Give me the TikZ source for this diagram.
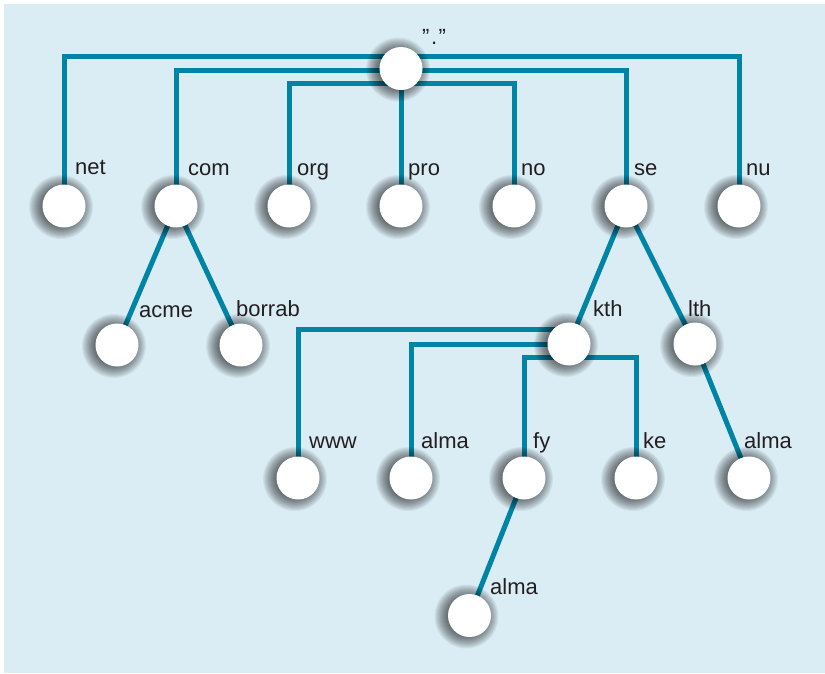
\documentclass[tikz,border=0pt]{standalone}
\usepackage{fontspec}
\setmainfont{Liberation Sans}
\definecolor{bgc}{RGB}{218,236,244}
\definecolor{linec}{RGB}{0,132,166}
\definecolor{txtc}{RGB}{35,31,32}
\pgfdeclarelayer{bglayer}
\pgfdeclarelayer{shlayer}
\pgfsetlayers{bglayer,shlayer,main}
\begin{document}
\begin{tikzpicture}[x=1pt,y=-1pt,
  dnode/.style={circle,fill=white,minimum size=43pt,inner sep=0pt},
  lbl/.style={anchor=base west,inner sep=0pt,font=\fontsize{22}{26}\selectfont,text=txtc},
  conn/.style={draw=linec,line width=5pt},
  shadowring/.style={fill=black,fill opacity=0.05}]
\useasboundingbox (0,0) rectangle (825,673);
% nodes
\node[dnode] (root) at (401,68.5) {};
\node[dnode] (net) at (64,206) {};
\node[dnode] (com) at (176,206) {};
\node[dnode] (org) at (289,206) {};
\node[dnode] (pro) at (401,206) {};
\node[dnode] (no) at (514,206) {};
\node[dnode] (se) at (626,206) {};
\node[dnode] (nu) at (739,206) {};
\node[dnode] (acme) at (117,345) {};
\node[dnode] (borrab) at (241,345) {};
\node[dnode] (kth) at (569,344) {};
\node[dnode] (lth) at (695,344) {};
\node[dnode] (www) at (298,478) {};
\node[dnode] (alma1) at (411,478) {};
\node[dnode] (fy) at (524,478) {};
\node[dnode] (ke) at (636,478) {};
\node[dnode] (alma2) at (749,478) {};
\node[dnode] (alma3) at (469.5,615.5) {};
% labels
\node[lbl] (lroot) at (422,44) {”\kern1.5pt.\kern1.5pt”};
\node[lbl] (lnet) at (75,174) {net};
\node[lbl] (lcom) at (188,175) {com};
\node[lbl] (lorg) at (297,175) {org};
\node[lbl] (lpro) at (408,175) {pro};
\node[lbl] (lno) at (521,175) {no};
\node[lbl] (lse) at (634,175) {se};
\node[lbl] (lnu) at (746,175) {nu};
\node[lbl] (lacme) at (139,317) {acme};
\node[lbl] (lborrab) at (236,316) {borrab};
\node[lbl] (lkth) at (593,316) {kth};
\node[lbl] (llth) at (688,316) {lth};
\node[lbl] (lwww) at (309,448) {www};
\node[lbl] (lalma1) at (421,448) {alma};
\node[lbl] (lfy) at (533,448) {fy};
\node[lbl] (lke) at (643,448) {ke};
\node[lbl] (lalma2) at (744,448) {alma};
\node[lbl] (lalma3) at (490,594) {alma};
% shadows
\begin{pgfonlayer}{shlayer}
\foreach \n in {root,net,com,org,pro,no,se,nu,acme,borrab,kth,lth,www,alma1,fy,ke,alma2,alma3}{
  \foreach \k in {0,1,...,12}{
    \fill[shadowring] ([xshift=-3pt,yshift=-1pt]\n.center) circle ({20pt+\k pt});
  }
}
\end{pgfonlayer}
% background and connectors
\begin{pgfonlayer}{bglayer}
\fill[white] (0,0) rectangle (825,673);
\fill[bgc] (4,4) rectangle (825,673);
\draw[conn] (net.center) |- ([yshift=12.5pt]root.center) -| (nu.center);
\draw[conn] (com.center) |- ([yshift=-1.5pt]root.center) -| (se.center);
\draw[conn] (org.center) |- ([yshift=-14.5pt]root.center) -| (no.center);
\draw[conn] (root.center) -- (pro.center);
\draw[conn] (com.center) -- (acme.center);
\draw[conn] (com.center) -- (borrab.center);
\draw[conn] (se.center) -- (kth.center);
\draw[conn] (se.center) -- (lth.center);
\draw[conn] (lth.center) -- (alma2.center);
\draw[conn] ([yshift=15pt]kth.center) -| (www.center);
\draw[conn] (kth.center) -| (alma1.center);
\draw[conn] (fy.center) |- ([yshift=-13pt]kth.center) -| (ke.center);
\draw[conn] (fy.center) -- (alma3.center);
\end{pgfonlayer}
\end{tikzpicture}
\end{document}
